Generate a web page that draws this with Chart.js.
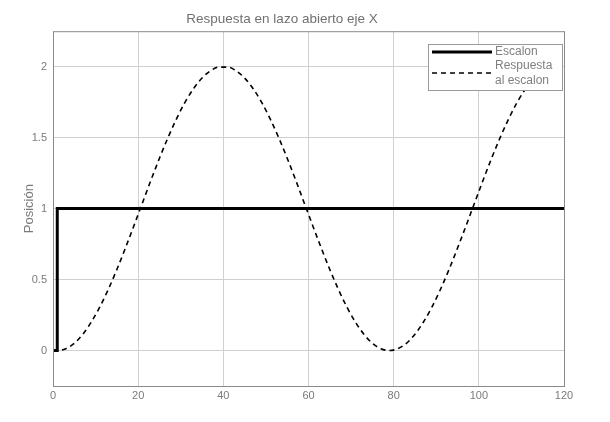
<!DOCTYPE html>
<html>
<head>
<meta charset="utf-8">
<script src="https://cdn.jsdelivr.net/npm/chart.js@4.4.0/dist/chart.umd.min.js"></script>
<style>
  html, body { margin: 0; padding: 0; background: #fff; }
  #wrap { width: 610px; height: 422px; }
</style>
</head>
<body>
<div id="wrap"><canvas id="grafico"></canvas></div>
<script>
// Datos
const escalonX = [0, 1, 1, 120];
const escalonY = [0, 0, 1, 1];

const respuestaX = [0, 1, 3, 5, 7, 9, 11, 13, 15, 17, 19, 21, 23, 25, 27, 29, 31, 33, 35, 37, 39,
  41, 43, 45, 47, 49, 51, 53, 55, 57, 59, 61, 63, 65, 67, 69, 71, 73, 75, 77, 79,
  81, 83, 85, 87, 89, 91, 93, 95, 97, 99, 101, 103, 105, 107, 109, 111, 113, 115, 117, 119, 120];
const respuestaY = [0, 0, 0.013, 0.051, 0.115, 0.201, 0.307, 0.432, 0.571, 0.722, 0.879, 1.04, 1.2, 1.355, 1.5, 1.632, 1.749, 1.845, 1.92, 1.971, 1.997,
  1.997, 1.971, 1.92, 1.845, 1.749, 1.632, 1.5, 1.355, 1.2, 1.04, 0.879, 0.722, 0.571, 0.432, 0.307, 0.201, 0.115, 0.051, 0.013, 0,
  0.013, 0.051, 0.115, 0.201, 0.307, 0.432, 0.571, 0.722, 0.879, 1.04, 1.2, 1.355, 1.5, 1.632, 1.749, 1.845, 1.92, 1.971, 1.997, 1.997, 1.99];

const ticksX = [0, 20, 40, 60, 80, 100, 120];
const ticksY = [0, 0.5, 1, 1.5, 2];

const gris = '#7a7a7a';
const fuente = 'Liberation Sans, Arial, sans-serif';

function pares(xs, ys) {
  return xs.map((x, i) => ({ x: x, y: ys[i] }));
}

// Marco completo alrededor del area y leyenda tipo MATLAB
const marcoYLeyenda = {
  id: 'marcoYLeyenda',
  afterDraw(chart) {
    const c = chart.ctx;
    const a = chart.chartArea;
    c.save();
    c.strokeStyle = '#8a8a8a';
    c.lineWidth = 1;
    c.strokeRect(a.left + 0.5, a.top + 0.5, a.right - a.left, a.bottom - a.top);

    // leyenda
    const lx = 428, ly = 44, lw = 134, lh = 46;
    c.fillStyle = '#fff';
    c.fillRect(lx, ly, lw, lh);
    c.strokeStyle = '#9a9a9a';
    c.strokeRect(lx + 0.5, ly + 0.5, lw, lh);

    const ds = chart.data.datasets;
    c.font = '12px ' + fuente;
    c.textBaseline = 'middle';
    c.fillStyle = '#808080';

    c.strokeStyle = '#000';
    c.lineWidth = ds[0].borderWidth;
    c.setLineDash([]);
    c.beginPath();
    c.moveTo(lx + 4, ly + 8);
    c.lineTo(lx + 64, ly + 8);
    c.stroke();
    c.fillText(ds[0].label, lx + 67, ly + 8);

    c.lineWidth = ds[1].borderWidth;
    c.setLineDash(ds[1].borderDash);
    c.beginPath();
    c.moveTo(lx + 4, ly + 29);
    c.lineTo(lx + 64, ly + 29);
    c.stroke();
    c.setLineDash([]);
    c.fillText('Respuesta', lx + 67, ly + 22);
    c.fillText('al escalon', lx + 67, ly + 37);
    c.restore();
  }
};

new Chart(document.getElementById('grafico'), {
  type: 'line',
  data: {
    datasets: [
      {
        label: 'Escalon',
        data: pares(escalonX, escalonY),
        borderColor: '#000',
        borderWidth: 3,
        pointRadius: 0,
        tension: 0,
        fill: false
      },
      {
        label: 'Respuesta al escalon',
        data: pares(respuestaX, respuestaY),
        borderColor: '#000',
        borderWidth: 1.6,
        borderDash: [5, 4],
        pointRadius: 0,
        cubicInterpolationMode: 'monotone',
        fill: false
      }
    ]
  },
  options: {
    responsive: true,
    maintainAspectRatio: false,
    animation: false,
    layout: { padding: { left: 0, right: 46, top: 0, bottom: 0 } },
    plugins: {
      legend: { display: false },
      tooltip: { enabled: false },
      title: {
        display: true,
        text: 'Respuesta en lazo abierto eje X',
        color: '#707070',
        font: { family: fuente, size: 13.5, weight: 'normal' },
        padding: { top: 11, bottom: 4 }
      }
    },
    scales: {
      x: {
        type: 'linear',
        min: 0,
        max: 120,
        afterBuildTicks: (axis) => { axis.ticks = ticksX.map(v => ({ value: v })); },
        afterFit: (axis) => { axis.height = 36; },
        ticks: { color: gris, font: { family: fuente, size: 11 }, padding: 3, maxRotation: 0 },
        grid: { color: '#d0d0d0', drawTicks: false },
        border: { display: false }
      },
      y: {
        min: -0.25,
        max: 2.25,
        afterBuildTicks: (axis) => { axis.ticks = ticksY.map(v => ({ value: v })); },
        afterFit: (axis) => { axis.width = 53; },
        ticks: {
          color: gris,
          font: { family: fuente, size: 11 },
          padding: 6,
          callback: (v) => String(v)
        },
        grid: { color: '#d0d0d0', drawTicks: false },
        border: { display: false },
        title: {
          display: true,
          text: 'Posición',
          color: gris,
          font: { family: fuente, size: 13 },
          padding: { top: 22, bottom: 6 }
        }
      }
    }
  },
  plugins: [marcoYLeyenda]
});
</script>
</body>
</html>
